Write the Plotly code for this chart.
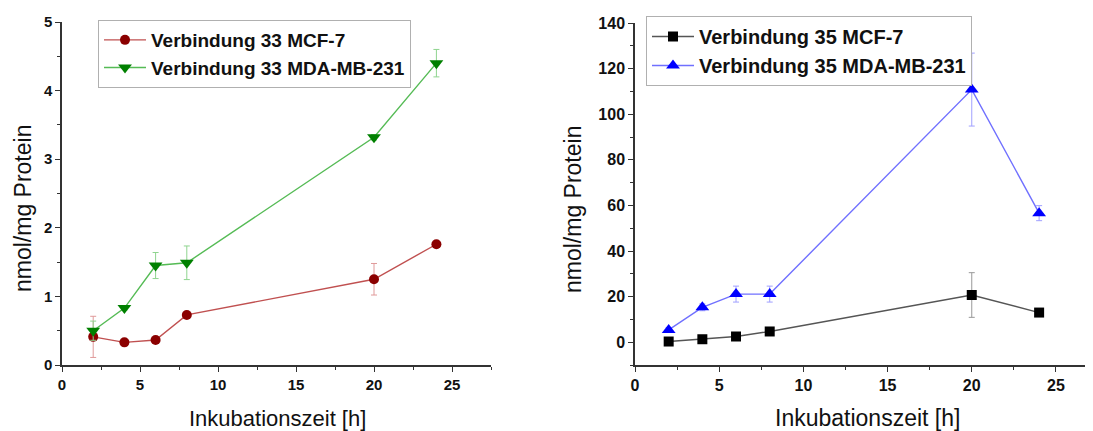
import plotly.graph_objects as go

# ---- data ----
hours = [2, 4, 6, 8, 20, 24]

v33_mcf7 = [0.41, 0.33, 0.365, 0.73, 1.25, 1.76]
v33_mcf7_err = [0.30, 0.02, 0.02, 0.02, 0.23, 0.03]
v33_mda = [0.50, 0.83, 1.45, 1.49, 3.32, 4.40]
v33_mda_err = [0.14, 0.03, 0.19, 0.245, 0.04, 0.20]

v35_mcf7 = [0.3, 1.3, 2.5, 4.7, 20.7, 13.0]
v35_mcf7_err = [0.5, 0.5, 0.6, 0.8, 9.8, 1.0]
v35_mda = [5.4, 15.3, 21.1, 21.1, 110.8, 56.6]
v35_mda_err = [1.0, 1.5, 3.5, 3.5, 16.0, 3.3]

names = ["Verbindung 33 MCF-7", "Verbindung 33 MDA-MB-231",
         "Verbindung 35 MCF-7", "Verbindung 35 MDA-MB-231"]
x_title = "Inkubationszeit [h]"
y_title = "nmol/mg Protein"

OFF = 8  # page body margin
W, H = 1093 - OFF, 431 - OFF
px = lambda x: (x - OFF) / W
py = lambda y: 1 - (y - OFF) / H

fig = go.Figure()

def add(x, y, err, name, lc, mc, ec, sym, size, xa, ya, leg):
    fig.add_trace(go.Scatter(
        x=x, y=y, name=name, mode="lines+markers",
        line=dict(color=lc, width=1.4),
        marker=dict(color=mc, symbol=sym, size=size, line=dict(width=0)),
        error_y=dict(type="data", array=err, color=ec, thickness=1, width=3),
        xaxis=xa, yaxis=ya, legend=leg))

add(hours, v33_mcf7, v33_mcf7_err, names[0], "#c05050", "#8b0000", "#e09a9a", "circle", 10, "x", "y", "legend")
add(hours, v33_mda, v33_mda_err, names[1], "#55bb55", "#008000", "#8fd48f", "triangle-down", 12, "x", "y", "legend")
add(hours, v35_mcf7, v35_mcf7_err, names[2], "#555555", "#000000", "#999999", "square", 10, "x2", "y2", "legend2")
add(hours, v35_mda, v35_mda_err, names[3], "#7070ff", "#0000ff", "#a0a0ff", "triangle-up", 12, "x2", "y2", "legend2")

axis_common = dict(showline=True, linecolor="#333333", linewidth=1.5, mirror=False,
                   ticks="outside", ticklen=5, tickwidth=1.3, tickcolor="#333333",
                   showgrid=False, zeroline=False, automargin=False)

fig.update_layout(
    width=W, height=H, paper_bgcolor="white", plot_bgcolor="white",
    margin=dict(l=0, r=0, t=0, b=0),
    font=dict(family="Liberation Sans, Arial, sans-serif", color="#111111"),
    xaxis=dict(domain=[px(62), px(491)], range=[0, 27.5], dtick=5, anchor="y",
               tickfont=dict(size=15, family="Liberation Sans", weight="bold"),
               minor=dict(dtick=2.5, ticks="outside", ticklen=3, tickcolor="#333333"),
               **axis_common),
    yaxis=dict(domain=[py(365), py(22)], range=[0, 5], dtick=1, anchor="x",
               tickfont=dict(size=15, family="Liberation Sans", weight="bold"),
               minor=dict(dtick=0.5, ticks="outside", ticklen=3, tickcolor="#333333"),
               **axis_common),
    xaxis2=dict(domain=[px(635), 1.0], range=[0, 27.2], dtick=5, anchor="y2",
                tickfont=dict(size=16, family="Liberation Sans", weight="bold"),
                minor=dict(dtick=2.5, ticks="outside", ticklen=3, tickcolor="#333333"),
                **axis_common),
    yaxis2=dict(domain=[py(365), py(23)], range=[-10, 140], dtick=20, anchor="x2",
                tickfont=dict(size=16, family="Liberation Sans", weight="bold"),
                minor=dict(dtick=10, ticks="outside", ticklen=3, tickcolor="#333333"),
                **axis_common),
    legend=dict(x=px(98), y=py(20), xanchor="left", yanchor="top",
                bgcolor="white", bordercolor="#b0b0b0", borderwidth=1,
                font=dict(size=19, family="Liberation Sans", weight="bold", color="#111111"),
                itemwidth=42, tracegroupgap=0),
    legend2=dict(x=px(646), y=py(16), xanchor="left", yanchor="top",
                 bgcolor="white", bordercolor="#b0b0b0", borderwidth=1,
                 font=dict(size=20, family="Liberation Sans", weight="bold", color="#111111"),
                 itemwidth=42, tracegroupgap=0),
    showlegend=True,
)

annots = [
    dict(text=x_title, x=px(277), y=py(418), size=22),
    dict(text=x_title, x=px(867), y=py(418), size=23),
    dict(text=y_title, x=px(23), y=py(209), size=23, angle=-90),
    dict(text=y_title, x=px(573), y=py(210), size=23, angle=-90),
]
for a in annots:
    fig.add_annotation(text=a["text"], x=a["x"], y=a["y"], xref="paper", yref="paper",
                       xanchor="center", yanchor="middle", showarrow=False,
                       textangle=a.get("angle", 0),
                       font=dict(size=a["size"], family="Liberation Sans", color="#111111"))

fig.write_html("out.html")
